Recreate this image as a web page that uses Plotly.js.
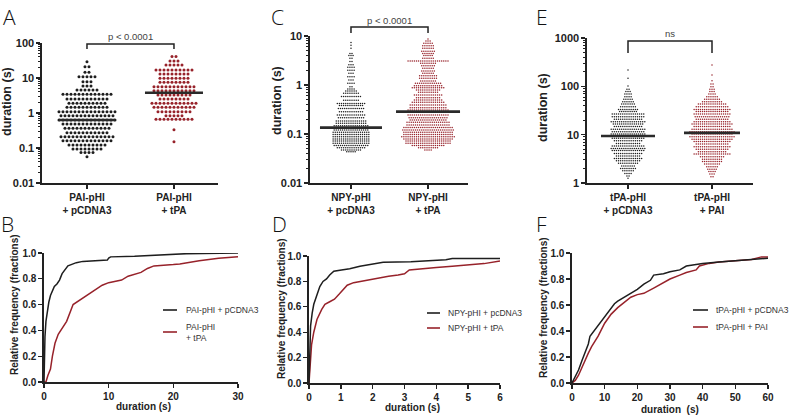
<!DOCTYPE html>
<html><head><meta charset="utf-8">
<script src="https://cdn.plot.ly/plotly-3.0.1.min.js"></script>
<style>html,body{margin:0;padding:0;background:#fff}#chart{width:791px;height:415px}</style>
</head><body><div id="chart"></div><script>
// ---------- DATA (durations in s; dot rows: value + number of dots in that row) ----------
const aCats = ['PAI-pHI<br>+ pCDNA3', 'PAI-pHI<br>+ tPA'];
const cCats = ['NPY-pHI<br>+ pcDNA3', 'NPY-pHI<br>+ tPA'];
const eCats = ['tPA-pHI<br>+ pCDNA3', 'tPA-pHI<br>+ PAI'];

const aCtrlVals = [29.3,21.1,14.5,10.9,7.85,5.9,4.54,3.41,2.51,1.89,1.45,1.09,0.84,0.63,0.485,0.365,0.274,0.211,0.162,0.122,0.094,0.074,0.056];
const aCtrlCounts = [1,2,2,5,3,3,6,13,11,10,11,15,14,15,13,12,11,14,13,10,8,4,1];
const aTpaVals = [41,30.6,23.5,16.9,13,9.8,7.5,5.65,4.35,3.27,2.51,1.89,1.45,1.09,0.84,0.66,0.33,0.15];
const aTpaCounts = [2,3,5,10,8,8,8,11,11,9,8,12,11,9,5,10,1,1];
const aMedians = [0.63, 3.8];

const cCtrlVals = [7.4,6.5,5.6,4.4,4.0,3.5,3.0,2.6,2.3,2.0,1.73,1.48,1.26,1.08,0.92,0.83,0.75,0.68,0.58,0.49,0.42,0.38,0.33,0.286,0.244,0.215,0.184,0.165,0.148,0.134,0.121,0.108,0.098,0.088,0.079,0.072,0.0645,0.058,0.0526,0.0472,0.0436];
const cCtrlCounts = [1,1,1,2,3,2,2,3,4,4,3,4,3,4,2,4,6,8,10,8,14,12,13,12,14,13,15,15,17,17,17,18,18,18,18,18,18,17,14,10,5];
const cTpaVals = [8.7,7.9,7.1,6.35,5.6,4.9,4.4,4.0,3.5,3.1,2.77,2.48,2.19,1.93,1.73,1.55,1.37,1.21,1.08,0.97,0.88,0.79,0.71,0.625,0.552,0.494,0.443,0.391,0.345,0.309,0.277,0.244,0.215,0.193,0.173,0.153,0.135,0.121,0.108,0.098,0.088,0.079,0.072,0.0645,0.058,0.0526,0.0472];
const cTpaCounts = [1,3,5,6,6,7,6,5,6,20,8,7,6,7,6,9,9,8,13,14,16,12,10,14,12,14,16,18,18,20,22,20,19,18,21,21,24,25,24,24,26,24,22,22,16,10,4];
const cMedians = [0.135, 0.286];

const eCtrlVals = [218,147,102,87,78,69,61,54,48,43,38,33,30,26.8,23.6,20.8,18.6,16.6,14.7,12.9,11.5,10.3,9.4,8.4,7.5,6.6,5.8,5.2,4.7,4.1,3.6,3.2,2.9,2.55,2.25,2.0,1.8,1.58,1.4,1.25];
const eCtrlCounts = [1,1,1,2,3,4,4,5,6,7,8,10,9,16,16,14,17,15,14,17,16,17,18,16,14,12,16,17,16,14,12,14,12,10,7,8,6,4,2,1];
const eTpaVals = [277,172,131,112,98,87,78,69,61,54,48,43,38,33,30,26.8,23.6,20.8,18.6,16.6,14.7,12.9,11.5,10.3,9.1,8.0,7.2,6.4,5.65,5.0,4.45,4.0,3.5,3.1,2.77,2.47,2.18,1.92,1.72,1.53,1.35];
const eTpaCounts = [1,1,1,2,2,3,3,4,6,8,10,14,16,18,16,18,17,16,18,20,18,20,22,20,22,20,18,16,18,16,14,18,12,10,10,8,6,5,4,3,2];
const eMedians = [9.4, 10.9];

const bNames = ['PAI-pHI + pCDNA3', 'PAI-pHI<br>+ tPA'];
const bCtrlX = [0,0.05,0.15,0.3,0.5,0.75,1.0,1.3,1.6,2.0,2.4,2.8,3.2,3.7,4.2,5,6,8,9.8,10,10.3,14,18,20,22,30];
const bCtrlY = [0,0.15,0.35,0.47,0.55,0.62,0.67,0.7,0.74,0.76,0.79,0.84,0.87,0.9,0.91,0.925,0.935,0.94,0.945,0.96,0.97,0.975,0.985,0.99,0.995,1.0];
const bTpaX = [0,0.3,0.6,1.0,1.3,1.7,2.2,2.8,3.5,4.5,6,7,8,9,10,11,12,13,15,16,17,20,21,24,27,30];
const bTpaY = [0,0,0.05,0.1,0.2,0.3,0.37,0.42,0.47,0.6,0.65,0.68,0.72,0.75,0.77,0.78,0.79,0.82,0.85,0.88,0.9,0.91,0.915,0.94,0.96,0.97];

const dNames = ['NPY-pHI + pcDNA3', 'NPY-pHI + tPA'];
const dCtrlX = [0,0.02,0.05,0.1,0.15,0.23,0.34,0.44,0.55,0.65,0.78,1.02,1.28,1.6,1.9,2.1,2.33,3.2,3.7,4.3,4.5,6];
const dCtrlY = [0,0.3,0.45,0.55,0.62,0.68,0.76,0.8,0.82,0.85,0.88,0.89,0.9,0.92,0.93,0.94,0.95,0.955,0.96,0.97,0.98,0.98];
const dTpaX = [0,0.03,0.08,0.15,0.25,0.4,0.5,0.65,0.8,0.95,1.05,1.2,1.4,1.6,1.8,2.0,2.5,2.8,3.0,3.15,3.5,4.0,4.5,5,5.5,6];
const dTpaY = [0,0.15,0.3,0.4,0.5,0.58,0.62,0.64,0.66,0.7,0.73,0.77,0.79,0.8,0.81,0.82,0.84,0.85,0.86,0.89,0.9,0.91,0.92,0.93,0.94,0.96];

const fNames = ['tPA-pHI + pCDNA3', 'tPA-pHI + PAI'];
const fCtrlX = [0,1,2,3,4,5,5.5,7,8,10,11,12,13,14,16,18,20,22,24,25,28,30,33,35,38,40,45,50,55,60];
const fCtrlY = [0,0.05,0.1,0.17,0.24,0.3,0.36,0.41,0.44,0.51,0.54,0.58,0.61,0.63,0.66,0.69,0.72,0.76,0.79,0.83,0.84,0.855,0.87,0.9,0.91,0.92,0.93,0.94,0.945,0.96];
const fTpaX = [0,1,2,3,4,5,6,8,10,12,14,16,18,20,22,25,28,30,33,35,38,39,42,45,50,55,58,60];
const fTpaY = [0,0.02,0.06,0.12,0.17,0.23,0.28,0.36,0.46,0.53,0.58,0.62,0.66,0.68,0.69,0.73,0.77,0.8,0.83,0.85,0.87,0.9,0.92,0.93,0.94,0.95,0.97,0.97];

const pTexts = ['p < 0.0001', 'p < 0.0001', 'ns'];

// ---------- LAYOUT / STYLE ----------
const W = 791, H = 415;
const BLACK = '#1e1e1e', RED = '#97222a', AX = '#222';
const FONT = 'Liberation Sans, Arial, sans-serif';
const fx = p => p / W, fy = p => 1 - p / H;

const P = {
  A: {x0:42, x1:218, y0:43, y1:183, xr:[0.483,2.506], yr:[-2,2]},
  C: {x0:310, x1:468, y0:36, y1:183, xr:[0.468,2.519], yr:[-2,1]},
  E: {x0:587, x1:753, y0:38, y1:183, xr:[0.512,2.488], yr:[0,3]},
  B: {x0:44, x1:238, y0:253, y1:382, xr:[0,30]},
  D: {x0:309, x1:500, y0:256, y1:383, xr:[0,6]},
  F: {x0:572, x1:768, y0:253, y1:383, xr:[0,60]}
};

function swarm(vals, counts, cat, spacePx, p) {
  const ppu = (p.x1 - p.x0) / (p.xr[1] - p.xr[0]);
  const xs = [], ys = [];
  vals.forEach((v, i) => {
    const n = counts[i];
    for (let j = 0; j < n; j++) { xs.push(cat + (j - (n - 1) / 2) * spacePx / ppu); ys.push(v); }
  });
  return {xs, ys};
}
function halfW(px, p) { return px / ((p.x1 - p.x0) / (p.xr[1] - p.xr[0])); }

const traces = [];
function addSwarm(vals, counts, cat, space, size, color, p, xa, ya) {
  const s = swarm(vals, counts, cat, space, p);
  traces.push({x:s.xs, y:s.ys, xaxis:xa, yaxis:ya, type:'scatter', mode:'markers',
    marker:{size:size, color:color, line:{width:0}}, hoverinfo:'skip'});
}
function addMedian(m, cat, hw, p, xa, ya) {
  const h = halfW(hw, p);
  traces.push({x:[cat - h, cat + h], y:[m, m], xaxis:xa, yaxis:ya, type:'scatter', mode:'lines',
    line:{color:'#2a2a2a', width:2.6}, hoverinfo:'skip'});
}
addSwarm(aCtrlVals, aCtrlCounts, 1, 4.0, 3.0, BLACK, P.A, 'x', 'y');
addSwarm(aTpaVals, aTpaCounts, 2, 4.0, 3.0, RED, P.A, 'x', 'y');
addMedian(aMedians[0], 1, 28, P.A, 'x', 'y');
addMedian(aMedians[1], 2, 29, P.A, 'x', 'y');
addSwarm(cCtrlVals, cCtrlCounts, 1, 2.1, 1.5, BLACK, P.C, 'x2', 'y2');
addSwarm(cTpaVals, cTpaCounts, 2, 2.1, 1.5, RED, P.C, 'x2', 'y2');
addMedian(cMedians[0], 1, 31, P.C, 'x2', 'y2');
addMedian(cMedians[1], 2, 32, P.C, 'x2', 'y2');
addSwarm(eCtrlVals, eCtrlCounts, 1, 2.1, 1.5, BLACK, P.E, 'x3', 'y3');
addSwarm(eTpaVals, eTpaCounts, 2, 2.1, 1.5, RED, P.E, 'x3', 'y3');
addMedian(eMedians[0], 1, 27, P.E, 'x3', 'y3');
addMedian(eMedians[1], 2, 28, P.E, 'x3', 'y3');

function addLine(x, y, color, xa, ya) {
  traces.push({x:x, y:y, xaxis:xa, yaxis:ya, type:'scatter', mode:'lines',
    line:{color:color, width:1.5}, hoverinfo:'skip'});
}
addLine(bTpaX, bTpaY, RED, 'x4', 'y4');
addLine(bCtrlX, bCtrlY, BLACK, 'x4', 'y4');
addLine(dTpaX, dTpaY, RED, 'x5', 'y5');
addLine(dCtrlX, dCtrlY, BLACK, 'x5', 'y5');
addLine(fTpaX, fTpaY, RED, 'x6', 'y6');
addLine(fCtrlX, fCtrlY, BLACK, 'x6', 'y6');

const baseAx = {showline:true, linecolor:AX, linewidth:1.6, ticks:'outside', ticklen:4, tickwidth:1.4,
  tickcolor:AX, showgrid:false, zeroline:false, fixedrange:true};
function topX(p, labels, anchor) {
  return Object.assign({}, baseAx, {domain:[fx(p.x0), fx(p.x1)], range:p.xr, anchor:anchor,
    tickmode:'array', tickvals:[1,2], ticktext:labels,
    tickfont:{family:FONT, size:10, color:AX, weight:'bold'}});
}
function topY(p, anchor, tv) {
  return Object.assign({}, baseAx, {domain:[fy(p.y1), fy(p.y0)], type:'log', range:p.yr, anchor:anchor,
    tickmode:'array', tickvals:tv, ticktext:tv.map(String),
    tickfont:{family:FONT, size:11, color:AX, weight:'bold'},
    minor:{ticks:'outside', ticklen:2, tickwidth:1, tickcolor:AX, dtick:'D1'}});
}
function botX(p, dt, anchor) {
  return Object.assign({}, baseAx, {domain:[fx(p.x0), fx(p.x1)], range:p.xr, anchor:anchor,
    tickmode:'linear', tick0:0, dtick:dt, tickfont:{family:FONT, size:10, color:AX, weight:'bold'}});
}
function botY(p, anchor) {
  return Object.assign({}, baseAx, {domain:[fy(p.y1), fy(p.y0)], range:[0,1], anchor:anchor,
    tickmode:'linear', tick0:0, dtick:0.2, tickformat:'.1f',
    tickfont:{family:FONT, size:10, color:AX, weight:'bold'}});
}

const ann = [];
function txt(x, y, text, size, opts) {
  ann.push(Object.assign({xref:'paper', yref:'paper', x:fx(x), y:fy(y), text:text, showarrow:false,
    font:{family:FONT, size:size, color:AX}, xanchor:'center', yanchor:'middle'}, opts || {}));
}
// panel letters
[['A',9,1],['B',7,208],['C',277,1],['D',279,208],['E',542,1],['F',541,208]].forEach(l =>
  txt(l[1], l[2], l[0], 21, {yanchor:'top', font:{family:'Open Sans, DejaVu Sans, sans-serif', size:21, color:'#111', weight:300}}));
// axis titles
const bold = s => ({family:FONT, size:s, color:AX, weight:'bold'});
txt(7, 102, 'duration (s)', 12.5, {textangle:-90, font:bold(12.5)});
txt(277, 101, 'duration (s)', 12.5, {textangle:-90, font:bold(12.5)});
txt(543, 108, 'duration (s)', 12.5, {textangle:-90, font:bold(12.5)});
txt(14, 305, 'Relative frequency (fractions)', 10, {textangle:-90, font:bold(10)});
txt(281, 309, 'Relative frequency (fractions)', 10, {textangle:-90, font:bold(10)});
txt(543, 308, 'Relative frequency (fractions)', 10, {textangle:-90, font:bold(10)});
txt(143, 406, 'duration (s)', 10, {font:bold(10)});
txt(412, 407, 'duration (s)', 10, {font:bold(10)});
txt(670, 409, 'duration  (s)', 10, {font:bold(10)});

// significance brackets
const shapes = [];
function bracket(xa, yTop, yBot, textY, label) {
  shapes.push({type:'path', xref:xa, yref:'paper',
    path:`M1,${fy(yBot)} L1,${fy(yTop)} L2,${fy(yTop)} L2,${fy(yBot)}`,
    line:{color:'#222', width:1.5}});
  ann.push({xref:xa, yref:'paper', x:1.5, y:fy(textY), text:label, showarrow:false,
    font:{family:FONT, size:9.5, color:'#444'}, xanchor:'center', yanchor:'middle'});
}
bracket('x', 44, 49, 37, pTexts[0]);
bracket('x2', 27, 33, 20, pTexts[1]);
bracket('x3', 41, 53, 33, pTexts[2]);

// legends
function legend(x0, x1, y, color, tx, ty, text) {
  shapes.push({type:'line', xref:'paper', yref:'paper', x0:fx(x0), x1:fx(x1), y0:fy(y), y1:fy(y),
    line:{color:color, width:1.6}});
  ann.push({xref:'paper', yref:'paper', x:fx(tx), y:fy(ty), text:text, showarrow:false, align:'left',
    font:{family:FONT, size:8.5, color:'#333'}, xanchor:'left', yanchor:'middle'});
}
legend(163, 177, 310, BLACK, 184, 310, bNames[0]);
legend(163, 177, 332, RED, 184, 332, bNames[1]);
legend(427, 440, 313, BLACK, 446, 313, dNames[0]);
legend(427, 440, 328, RED, 446, 328, dNames[1]);
legend(693, 708, 310, BLACK, 714, 310, fNames[0]);
legend(693, 708, 327, RED, 714, 327, fNames[1]);

const layout = {
  width:W, height:H, margin:{l:0, r:0, t:0, b:0}, showlegend:false,
  paper_bgcolor:'#fff', plot_bgcolor:'rgba(0,0,0,0)',
  xaxis: topX(P.A, aCats, 'y'), yaxis: topY(P.A, 'x', [0.01,0.1,1,10,100]),
  xaxis2: topX(P.C, cCats, 'y2'), yaxis2: topY(P.C, 'x2', [0.01,0.1,1,10]),
  xaxis3: topX(P.E, eCats, 'y3'), yaxis3: topY(P.E, 'x3', [1,10,100,1000]),
  xaxis4: botX(P.B, 10, 'y4'), yaxis4: botY(P.B, 'x4'),
  xaxis5: botX(P.D, 1, 'y5'), yaxis5: botY(P.D, 'x5'),
  xaxis6: botX(P.F, 10, 'y6'), yaxis6: botY(P.F, 'x6'),
  annotations: ann, shapes: shapes
};
Plotly.newPlot('chart', traces, layout, {staticPlot:true, displayModeBar:false});
</script></body></html>
